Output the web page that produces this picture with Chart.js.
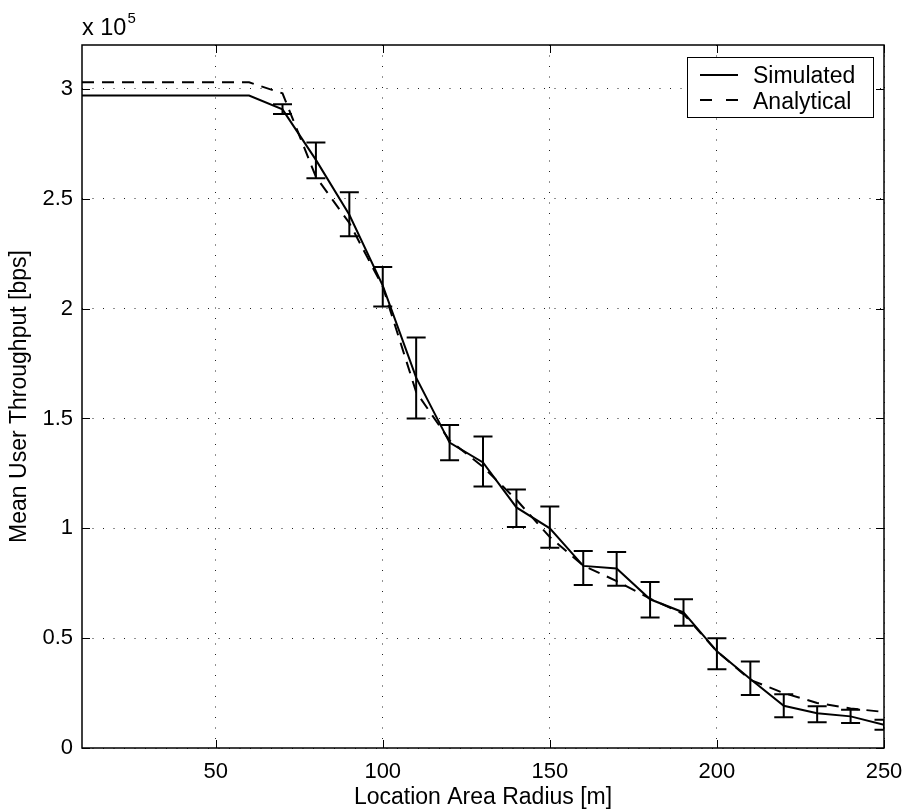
<!DOCTYPE html>
<html>
<head>
<meta charset="utf-8">
<script src="https://cdn.jsdelivr.net/npm/chart.js@4.4.1/dist/chart.umd.min.js"></script>
<style>
  html, body { margin: 0; padding: 0; background: #fff; }
</style>
</head>
<body>
<canvas id="chart" width="906" height="811"></canvas>
<script>
// Location area radius [m]
const radius = [10, 20, 30, 40, 50, 60, 70, 80, 90, 100, 110, 120, 130, 140, 150, 160, 170, 180, 190, 200, 210, 220, 230, 240, 250];

// Mean user throughput, in units of 10^5 bps
const simulated = [2.97, 2.97, 2.97, 2.97, 2.97, 2.97, 2.907, 2.677, 2.427, 2.105, 1.686, 1.39, 1.30, 1.095, 1.0, 0.829, 0.817, 0.677, 0.617, 0.44, 0.314, 0.192, 0.158, 0.144, 0.106];
const analytical = [3.03, 3.03, 3.03, 3.03, 3.03, 3.03, 2.98, 2.60, 2.39, 2.10, 1.62, 1.40, 1.28, 1.13, 0.96, 0.83, 0.76, 0.68, 0.61, 0.44, 0.31, 0.25, 0.205, 0.18, 0.164];

// confidence interval of the simulation (no bars below 70 m)
const errLow  = [null, null, null, null, null, null, 2.886, 2.594, 2.33, 2.01, 1.50, 1.31, 1.19, 1.006, 0.912, 0.742, 0.738, 0.594, 0.556, 0.359, 0.241, 0.14, 0.117, 0.114, 0.083];
const errHigh = [null, null, null, null, null, null, 2.93, 2.756, 2.53, 2.19, 1.868, 1.47, 1.418, 1.177, 1.099, 0.897, 0.892, 0.756, 0.677, 0.5, 0.394, 0.245, 0.19, 0.174, 0.129];

const xTicks = [50, 100, 150, 200, 250];
const yTicks = [0, 0.5, 1, 1.5, 2, 2.5, 3];

const FONT = "'Liberation Sans', Arial, Helvetica, sans-serif";

// vertical error bars with caps
const errorBars = {
    id: 'errorBars',
    afterDatasetsDraw(chart) {
        const { ctx, chartArea, scales: { x, y } } = chart;
        ctx.save();
        ctx.beginPath();
        ctx.rect(chartArea.left, chartArea.top, chartArea.right - chartArea.left, chartArea.bottom - chartArea.top);
        ctx.clip();
        ctx.strokeStyle = '#000';
        ctx.lineWidth = 2;
        radius.forEach((r, i) => {
            if (errLow[i] == null) return;
            const px = x.getPixelForValue(r);
            const lo = y.getPixelForValue(errLow[i]);
            const hi = y.getPixelForValue(errHigh[i]);
            ctx.beginPath();
            ctx.moveTo(px, lo); ctx.lineTo(px, hi);
            ctx.moveTo(px - 9.5, lo); ctx.lineTo(px + 9.5, lo);
            ctx.moveTo(px - 9.5, hi); ctx.lineTo(px + 9.5, hi);
            ctx.stroke();
        });
        ctx.restore();
    }
};

// matlab style box, inner ticks, exponent and legend
const frame = {
    id: 'frame',
    afterDraw(chart) {
        const { ctx, chartArea: a, scales: { x, y } } = chart;
        ctx.save();
        ctx.strokeStyle = '#000';
        ctx.lineWidth = 1;
        ctx.beginPath();
        xTicks.forEach(v => {
            const px = Math.round(x.getPixelForValue(v)) + 0.5;
            ctx.moveTo(px, a.bottom); ctx.lineTo(px, a.bottom - 8);
            ctx.moveTo(px, a.top); ctx.lineTo(px, a.top + 8);
        });
        yTicks.forEach(v => {
            const py = Math.round(y.getPixelForValue(v)) + 0.5;
            ctx.moveTo(a.left, py); ctx.lineTo(a.left + 8, py);
            ctx.moveTo(a.right, py); ctx.lineTo(a.right - 8, py);
        });
        ctx.stroke();

        ctx.lineWidth = 1.5;
        ctx.strokeRect(a.left, a.top, a.right - a.left, a.bottom - a.top);

        // exponent of the y axis
        ctx.fillStyle = '#000';
        ctx.textBaseline = 'alphabetic';
        ctx.textAlign = 'left';
        ctx.font = '23.5px ' + FONT;
        ctx.fillText('x 10', a.left, 35);
        const w = ctx.measureText('x 10').width;
        ctx.font = '15px ' + FONT;
        ctx.fillText('5', a.left + w + 1, 23);

        // legend
        const lx = 687, ly = 57, lw = 186, lh = 60;
        ctx.fillStyle = '#fff';
        ctx.fillRect(lx, ly, lw, lh);
        ctx.lineWidth = 1;
        ctx.strokeRect(lx + 0.5, ly + 0.5, lw, lh);
        ctx.lineWidth = 2;
        ctx.beginPath();
        ctx.moveTo(700, 75); ctx.lineTo(738, 75);
        ctx.stroke();
        ctx.setLineDash([12, 14]);
        ctx.beginPath();
        ctx.moveTo(700, 100); ctx.lineTo(738, 100);
        ctx.stroke();
        ctx.setLineDash([]);
        ctx.fillStyle = '#000';
        ctx.font = '23px ' + FONT;
        ctx.fillText('Simulated', 753, 83);
        ctx.fillText('Analytical', 753, 108.5);
        ctx.restore();
    }
};

const toPoints = ys => radius.map((r, i) => ({ x: r, y: ys[i] }));

new Chart(document.getElementById('chart'), {
    type: 'line',
    data: {
        datasets: [{
            label: 'Simulated',
            data: toPoints(simulated),
            borderColor: '#000',
            borderWidth: 2,
            pointRadius: 0,
            tension: 0
        }, {
            label: 'Analytical',
            data: toPoints(analytical),
            borderColor: '#000',
            borderWidth: 2,
            borderDash: [12, 8],
            pointRadius: 0,
            tension: 0
        }]
    },
    options: {
        responsive: false,
        animation: false,
        layout: { padding: { top: 45, right: 22, bottom: 0, left: 0 } },
        plugins: {
            legend: { display: false },
            tooltip: { enabled: false }
        },
        scales: {
            x: {
                type: 'linear',
                min: 10,
                max: 250,
                afterBuildTicks: s => { s.ticks = xTicks.map(v => ({ value: v })); },
                afterFit: s => { s.height = 63; s.paddingLeft = 0; s.paddingRight = 0; },
                grid: { color: '#222', lineWidth: 1, drawTicks: false },
                border: { display: false, dash: [1, 9.5] },
                ticks: {
                    color: '#000',
                    padding: 11,
                    maxRotation: 0,
                    font: { family: FONT, size: 22 },
                    callback: v => String(v)
                },
                title: {
                    display: true,
                    text: 'Location Area Radius [m]',
                    color: '#000',
                    font: { family: FONT, size: 23 },
                    padding: { top: 0, bottom: 0 }
                }
            },
            y: {
                min: 0,
                max: 3.2,
                afterBuildTicks: s => { s.ticks = yTicks.map(v => ({ value: v })); },
                afterFit: s => { s.width = 82; s.paddingTop = 0; s.paddingBottom = 0; },
                grid: { color: '#222', lineWidth: 1, drawTicks: false },
                border: { display: false, dash: [1, 9.5] },
                ticks: {
                    color: '#000',
                    padding: 9,
                    font: { family: FONT, size: 22 },
                    callback: v => String(v)
                },
                title: {
                    display: true,
                    text: 'Mean User Throughput [bps]',
                    color: '#000',
                    font: { family: FONT, size: 23 },
                    padding: { top: 6, bottom: 0 }
                }
            }
        }
    },
    plugins: [errorBars, frame]
});
</script>
</body>
</html>
